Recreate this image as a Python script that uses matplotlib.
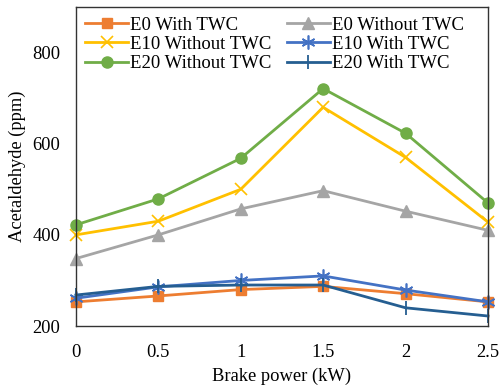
import matplotlib
matplotlib.use("Agg")
import matplotlib.pyplot as plt

plt.rcParams['font.family'] = ['Liberation Serif', 'DejaVu Serif']

power = [0, 0.5, 1, 1.5, 2, 2.5]
e0_with = [253, 266, 280, 287, 271, 253]
e0_without = [348, 400, 457, 497, 452, 410]
e10_without = [400, 430, 500, 680, 570, 428]
e10_with = [261, 286, 300, 310, 279, 253]
e20_without = [422, 479, 568, 721, 623, 470]
e20_with = [268, 287, 290, 290, 240, 222]

fig = plt.figure(figsize=(4.99, 3.9), dpi=100)
ax = fig.add_axes([0.152, 0.164, 0.826, 0.818])

lw = 2.0
h1, = ax.plot(power, e0_with, color='#ED7D31', marker='s', ms=6.5, lw=lw, label='E0 With TWC', clip_on=False)
h2, = ax.plot(power, e0_without, color='#A5A5A5', marker='^', ms=8, lw=lw, label='E0 Without TWC', clip_on=False)
h3, = ax.plot(power, e10_without, color='#FFC000', marker='x', ms=9, mew=1.2, lw=lw, label='E10 Without TWC', clip_on=False)
h4, = ax.plot(power, e10_with, color='#4472C4', marker=(6, 2, 0), ms=10, mew=1.2, lw=lw, label='E10 With TWC', clip_on=False)
h5, = ax.plot(power, e20_without, color='#70AD47', marker='o', ms=8, lw=lw, label='E20 Without TWC', clip_on=False)
h6, = ax.plot(power, e20_with, color='#255E91', marker='|', ms=10, mew=1.3, lw=lw, label='E20 With TWC', clip_on=False)

ax.set_xlim(0, 2.5)
ax.set_ylim(200, 900)
ax.set_xticks(power)
ax.set_xticklabels(['0', '0.5', '1', '1.5', '2', '2.5'])
ax.set_yticks([200, 400, 600, 800])
ax.tick_params(axis='y', length=0, labelsize=13.3, pad=11)
ax.tick_params(axis='x', length=0, labelsize=13.3, pad=13)
ax.set_xlabel('Brake power (kW)', fontsize=13.3, labelpad=5)
ax.set_ylabel('Acetaldehyde (ppm)', fontsize=13.3, labelpad=5)
for s in ax.spines.values():
    s.set_color('#333333')
    s.set_linewidth(1.0)

# row-major order like the original legend
ax.legend([h1, h3, h5, h2, h4, h6],
          [h.get_label() for h in [h1, h3, h5, h2, h4, h6]],
          loc='upper left', bbox_to_anchor=(0.0, 1.0), ncol=2, frameon=False,
          fontsize=13.5, handlelength=2.3, handletextpad=0.1,
          columnspacing=0.8, labelspacing=0.12, borderaxespad=0.3,
          borderpad=0.2)

fig.savefig('out.png', dpi=100)
